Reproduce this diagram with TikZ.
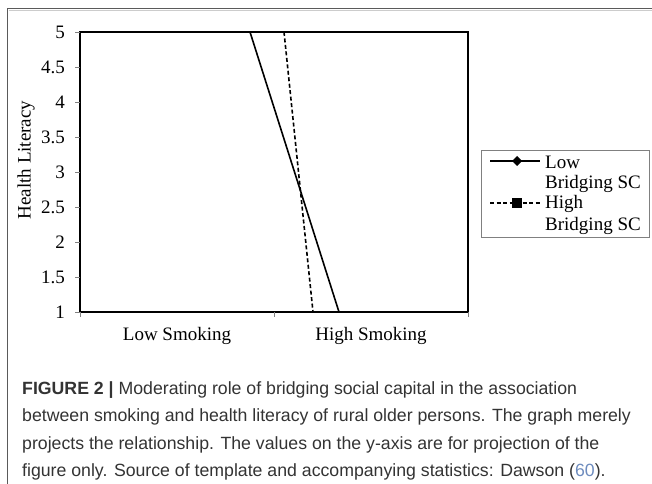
\documentclass[tikz,border=0pt]{standalone}
\usepackage{fontspec}
\setmainfont{Liberation Serif}
\newfontfamily\capfont{Liberation Sans}
\definecolor{captxt}{RGB}{51,51,51}
\definecolor{reflink}{RGB}{110,140,190}
\definecolor{framegray}{RGB}{90,90,90}
\begin{document}
\begin{tikzpicture}[x=1bp,y=-1bp,
  serif/.style={font=\fontsize{19bp}{22bp}\selectfont, inner sep=0pt},
  ticklab/.style={serif, anchor=east},
  tickmark/.style={draw=gray, line width=0.8bp},
  plotline/.style={line width=1.6bp},
  capline/.style={font=\capfont\fontsize{17.7bp}{21bp}\selectfont, text=captxt, anchor=base west, inner sep=0pt},
  legtext/.style={serif, anchor=west}]
\useasboundingbox (0,0) rectangle (652,484);
% outer frame
\draw[framegray, line width=1.6bp] (7.5,484) -- (7.5,8.5) -- (652,8.5);
\draw[gray!40, line width=0.8bp] (8.5,10) -- (652,10);
% plot area
\coordinate (pTL) at (80,32);
\coordinate (pBR) at (468,312);
\draw[line width=1.8bp] (pTL) rectangle (pBR);
% y ticks and labels
\foreach \v/\lab [count=\i] in {1/1,1.5/1.5,2/2,2.5/2.5,3/3,3.5/3.5,4/4,4.5/4.5,5/5}{
  \pgfmathsetmacro{\yy}{312-(\v-1)*70}
  \coordinate (yt\i) at (80,\yy);
  \draw[tickmark] (yt\i) -- ++(-5,0);
  \node[ticklab] (ylab\i) at (65,\yy) {\lab};
}
% x ticks
\foreach \xx [count=\i] in {80,274,468}{
  \coordinate (xt\i) at (\xx,312);
  \draw[tickmark] (xt\i) -- ++(0,5);
}
\node[serif] (lowsm) at (177,336) {Low Smoking};
\node[serif] (highsm) at (371,336) {High Smoking};
\node[serif, rotate=90] (ylabel) at (26,160) {Health Literacy};
% data lines
\coordinate (sTop) at (250,32);
\coordinate (sBot) at (339,312);
\coordinate (dTop) at (284,32);
\coordinate (dBot) at (313,312);
\draw[plotline] (sTop) -- (sBot);
\draw[plotline, dash pattern=on 4bp off 2.5bp] (dTop) -- (dBot);
% legend
\draw[gray, line width=0.8bp] (481,150) rectangle (649,237);
\coordinate (l1a) at (490,161);
\coordinate (l1b) at (540,161);
\coordinate (l2a) at (490,203);
\coordinate (l2b) at (540,203);
\draw[plotline] (l1a) -- (l1b);
\fill (517,156) -- (522,161) -- (517,166) -- (512,161) -- cycle;
\draw[plotline, dash pattern=on 4bp off 2.5bp] (l2a) -- (l2b);
\fill (512,198) rectangle (522,208);
\node[legtext] (leg1) at (545,162) {Low};
\node[legtext] (leg1b) at (545,184) {Bridging SC};
\node[legtext] (leg2) at (545,204) {High};
\node[legtext] (leg2b) at (545,226) {Bridging SC};
% caption
\node[capline] (cap1) at (22,394) {\textbf{FIGURE 2 |} Moderating role of bridging social capital in the association};
\node[capline] (cap2) at (22,421.5) {between smoking and health literacy of rural older persons. The graph merely};
\node[capline] (cap3) at (22,449) {projects the relationship. The values on the y-axis are for projection of the};
\node[capline] (cap4) at (22,476.5) {figure only. Source of template and accompanying statistics: Dawson (\textcolor{reflink}{60}).};
\end{tikzpicture}
\end{document}
